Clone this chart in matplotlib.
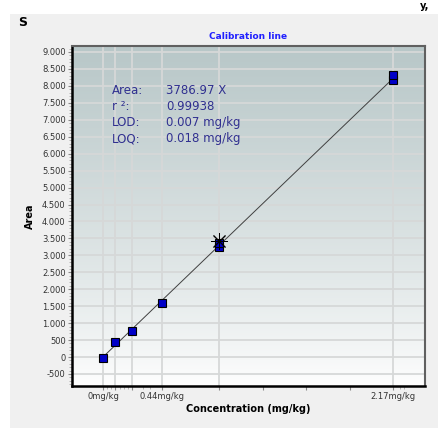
import matplotlib.pyplot as plt
import numpy as np
from matplotlib.patches import Rectangle
from matplotlib.ticker import FuncFormatter, FixedLocator

# calibration data
conc = [0.0, 0.087, 0.22, 0.44, 0.87, 0.87, 2.17, 2.17]
area = [-20, 440, 770, 1600, 3260, 3370, 8170, 8310]
level_conc = [0.0, 0.087, 0.22, 0.44, 0.87, 2.17]
check_conc = [0.87]
check_area = [3430]

slope = 3786.97
intercept = 0.0

xtick_pos = [0.0, 0.087, 0.22, 0.44, 0.87, 1.195, 1.52, 1.845, 2.17]
xtick_labels = ["0mg/kg", "", "", "0.44mg/kg", "", "", "", "", "2.17mg/kg"]
xminor = [0.03, 0.06, 0.13, 0.16, 0.19, 0.3, 0.35, 2.22, 2.25]

stats_names = ["Area:", "r \u00b2:", "LOD:", "LOQ:"]
stats_values = ["3786.97 X", "0.99938", "0.007 mg/kg", "0.018 mg/kg"]

fig = plt.figure(figsize=(4.38, 4.28), dpi=100)
fig.patch.set_facecolor("white")
fig.patches.append(Rectangle((10 / 438, 0), 1, 1 - 14 / 428, transform=fig.transFigure,
                             facecolor="#f0f0f0", edgecolor="none", zorder=-5))
fig.text(18 / 438, 1 - 22 / 428, "S", fontsize=9, fontweight="bold", va="center")
fig.text(420 / 438, 1 - 1 / 428, "y,", fontsize=7, fontweight="bold", va="top")

ax = fig.add_axes([72 / 438, 42 / 428, 353 / 438, 340 / 428])
ax.set_xlim(-0.232, 2.41)
ax.set_ylim(-855, 9177)

# gradient background
grad = np.linspace(0, 1, 256).reshape(-1, 1)
top = np.array([184, 199, 200]) / 255
bot = np.array([255, 255, 255]) / 255
img = bot + (top - bot) * grad[:, :, None] ** 0.8
ax.imshow(img, extent=[0, 1, 0, 1], transform=ax.transAxes, origin="lower",
          aspect="auto", zorder=-2)

# grid
for yv in range(-500, 9001, 500):
    ax.axhline(yv, color="#d6d8d8", lw=1.3, zorder=0)
for xv in level_conc:
    ax.axvline(xv, color="#d6d8d8", lw=1.3, zorder=0)

xs = np.array([0.0, 2.17])
ax.plot(xs, slope * xs + intercept, color="#404040", lw=0.7, zorder=2)
ax.plot(conc, area, "s", color="#0000c8", markeredgecolor="black",
        markeredgewidth=0.8, markersize=5.5, zorder=3)
ax.plot(check_conc, check_area, marker=(8, 2, 0), color="black",
        markersize=12, markeredgewidth=0.7, linestyle="none", zorder=4)

ax.set_title("Calibration line", fontsize=6.5, fontweight="bold", color="#2020ff", pad=5)
ax.set_xlabel("Concentration (mg/kg)", fontsize=7, fontweight="bold", labelpad=2)
ax.set_ylabel("Area", fontsize=7, fontweight="bold", labelpad=5)

ax.yaxis.set_major_locator(FixedLocator(range(-500, 9001, 500)))
ax.yaxis.set_minor_locator(FixedLocator(range(-800, 9101, 100)))
ax.yaxis.set_major_formatter(FuncFormatter(lambda v, p: f"{int(v):,}".replace(",", ".")))
ax.set_xticks(xtick_pos)
ax.set_xticklabels(xtick_labels)
ax.xaxis.set_minor_locator(FixedLocator(xminor))
ax.tick_params(axis="both", which="major", labelsize=6, colors="#888888",
               labelcolor="#333333", length=3, width=0.8, pad=1.5)
ax.tick_params(axis="both", which="minor", colors="#999999", length=2, width=0.5)

for side in ["left", "bottom"]:
    ax.spines[side].set_linewidth(1.8)
    ax.spines[side].set_color("black")
for side in ["top", "right"]:
    ax.spines[side].set_linewidth(1.5)
    ax.spines[side].set_color("#606060")

for i, (n, v) in enumerate(zip(stats_names, stats_values)):
    yy = 1 - (90 + i * 16.3) / 428
    fig.text(112 / 438, yy, n, fontsize=8.5, color="#303090", va="center")
    fig.text(166 / 438, yy, v, fontsize=8.5, color="#303090", va="center")

fig.savefig("out.png", dpi=100)
